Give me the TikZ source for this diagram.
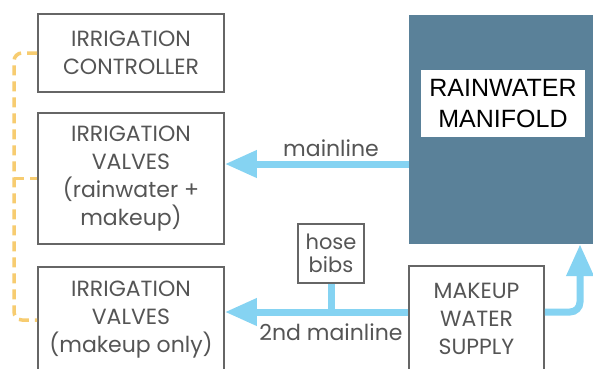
\documentclass[tikz,border=0pt]{standalone}
\usepackage{fontspec}
\setmainfont{Poppins}
\newfontfamily\manfont{Liberation Sans}
\usetikzlibrary{arrows.meta}
\definecolor{boxgray}{HTML}{666666}
\definecolor{txtgray}{HTML}{555555}
\definecolor{pipe}{HTML}{85D3F2}
\definecolor{manblue}{HTML}{5A8199}
\definecolor{ctrlorange}{HTML}{F7CC70}
\begin{document}
\begin{tikzpicture}[x=1pt,y=-1pt,
  box/.style={draw=boxgray,line width=1.8pt,fill=white,text=txtgray,align=center,
    font=\fontsize{22}{28}\selectfont,inner sep=0pt},
  pipeline/.style={draw=pipe,line width=7pt},
  pipearrow/.style={pipeline,-{Triangle[length=32pt,width=26pt]}},
  ctrlline/.style={draw=ctrlorange,line width=3.5pt,dash pattern=on 10pt off 6pt,rounded corners=8pt},
  lbl/.style={text=txtgray,font=\fontsize{22}{28}\selectfont,inner sep=0pt}]
\useasboundingbox (0,0) rectangle (593,368);
\begin{scope}
\clip (0,0) rectangle (593,368);
\fill[white] (0,0) rectangle (593,368);
% boxes
\node[box,minimum width=186pt,minimum height=78pt] (ctrl) at (131,53) {IRRIGATION\\CONTROLLER};
\node[box,minimum width=186pt,minimum height=131pt] (v2) at (131,178.5) {IRRIGATION\\VALVES\\(rainwater +\\makeup)};
\node[box,minimum width=186pt,minimum height=106pt] (v3) at (131,320) {IRRIGATION\\VALVES\\(makeup only)};
\node[fill=manblue,minimum width=191pt,minimum height=229pt,inner sep=0pt] (man) at (504.5,129.5) {};
\node[fill=white,minimum width=164pt,minimum height=67pt,inner sep=0pt,align=center,
  font=\manfont\fontsize{25}{31}\selectfont] (manlbl) at (503,103.5) {RAINWATER\\MANIFOLD};
\node[box,minimum width=66pt,minimum height=59pt,font=\fontsize{21}{23}\selectfont] (hose) at (331,253.5) {hose\\bibs};
\node[box,minimum width=135pt,minimum height=106pt] (sup) at (476.5,319) {MAKEUP\\WATER\\SUPPLY};
% coordinates
\coordinate (m1) at (man.west |- 0,164);
\coordinate (s2) at (sup.west |- 0,312);
\coordinate (s3) at (sup.east |- 0,312);
\coordinate (up) at (man.south -| 580,0);
\coordinate (busx) at (14,0);
% pipes
\draw[pipearrow] (m1) -- (m1 -| v2.east);
\draw[pipearrow] (s2) -- (s2 -| v3.east);
\draw[pipeline] (hose.south) -- (hose.south |- s2);
\draw[pipearrow,rounded corners=10pt] (s3) -| (up);
% labels
\node[lbl,anchor=base] (l1) at (331,156) {mainline};
\node[lbl,anchor=base] (l2) at (331,340) {2nd mainline};
% controller wiring
\draw[ctrlline] (ctrl.west) -| (busx |- v3.west) -- (v3.west);
\draw[ctrlline] (busx |- v2.west) -- (v2.west);
\end{scope}
\end{tikzpicture}
\end{document}
